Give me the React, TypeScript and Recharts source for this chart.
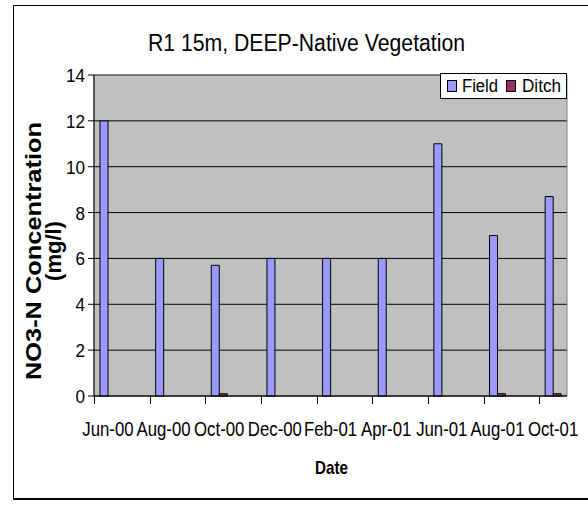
import { Bar, BarChart, CartesianGrid, ReferenceArea, XAxis, YAxis } from 'recharts'

// monthly slots on the date axis (Excel date axis, base unit = month)
const months = [
  'Jun-00', 'Jul-00', 'Aug-00', 'Sep-00', 'Oct-00', 'Nov-00', 'Dec-00', 'Jan-01', 'Feb-01',
  'Mar-01', 'Apr-01', 'May-01', 'Jun-01', 'Jul-01', 'Aug-01', 'Sep-01', 'Oct-01',
]
// null = no sample that month
const fieldValues = [12, null, 6, null, 5.7, null, 6, null, 6, null, 6, null, 11, null, 7, null, 8.7]
const ditchValues = [0, null, 0, null, 0.1, null, 0, null, 0, null, 0, null, 0, null, 0.1, null, 0.1]
const yTicks = [0, 2, 4, 6, 8, 10, 12, 14]

const FIELD = '#9999ff'
const DITCH = '#993366'
const FONT = '"Liberation Sans", Arial, sans-serif'

const W = 588
const H = 507
const PLOT_LEFT = 94
const PLOT_RIGHT = 567
const PLOT_TOP = 75
const PLOT_BOTTOM = 396
const BAND = (PLOT_RIGHT - PLOT_LEFT) / months.length

const data = months.map((month, i) => ({ month, field: fieldValues[i], ditch: ditchValues[i] }))

function MonthTick(props: any) {
  const { x, payload } = props
  if (payload.index % 2 !== 0) return null
  // tick mark sits on the left edge of the month slot, label in its middle
  const left = Math.round(x - BAND / 2) + 0.5
  return (
    <g>
      <line x1={left} y1={PLOT_BOTTOM} x2={left} y2={PLOT_BOTTOM + 8} stroke="#000" strokeWidth={1} />
      <text
        transform={`translate(${x},436) scale(0.84,1)`}
        textAnchor="middle"
        fontSize={20}
        fontFamily={FONT}
        fill="#000"
      >
        {payload.value}
      </text>
    </g>
  )
}

function ValueTick(props: any) {
  const { x, y, payload } = props
  return (
    <text
      transform={`translate(${x - 1},${y + 7}) scale(0.9,1)`}
      textAnchor="end"
      fontSize={19}
      fontFamily={FONT}
      fill="#000"
    >
      {payload.value}
    </text>
  )
}

export default function App() {
  return (
    <div style={{ position: 'absolute', left: 0, top: 0, width: W, height: H, background: '#fff' }}>
      <div
        style={{
          position: 'absolute',
          left: 13,
          top: 5,
          width: 575,
          height: 495,
          borderLeft: '1px solid #000',
          borderTop: '1px solid #000',
          borderBottom: '2px solid #000',
          boxSizing: 'border-box',
        }}
      />
      <div style={{ position: 'absolute', left: 0, top: 0 }}>
        <BarChart
          width={W}
          height={H}
          data={data}
          barGap={0}
          barSize={8}
          margin={{ left: PLOT_LEFT - 60, right: W - PLOT_RIGHT, top: PLOT_TOP, bottom: H - PLOT_BOTTOM - 30 }}
        >
          <CartesianGrid vertical={false} stroke="#000" fill="#c0c0c0" fillOpacity={1} />
          <ReferenceArea y1={0} y2={14} fill="none" stroke="#808080" ifOverflow="visible" />
          <XAxis
            dataKey="month"
            interval={0}
            height={30}
            axisLine={{ stroke: '#000' }}
            tickLine={false}
            tick={<MonthTick />}
          />
          <YAxis
            width={60}
            domain={[0, 14]}
            ticks={yTicks}
            interval={0}
            axisLine={{ stroke: '#000' }}
            tickLine={{ stroke: '#000' }}
            tickSize={6}
            tick={<ValueTick />}
          />
          <Bar dataKey="field" name="Field" fill={FIELD} stroke="#000" strokeWidth={1} isAnimationActive={false} />
          <Bar dataKey="ditch" name="Ditch" fill={DITCH} stroke="#000" strokeWidth={1} isAnimationActive={false} />
        </BarChart>
      </div>
      <svg
        width={W}
        height={H}
        style={{ position: 'absolute', left: 0, top: 0, pointerEvents: 'none' }}
        fontFamily={FONT}
      >
        <text x={148} y={51} fontSize={23} textLength={317} lengthAdjust="spacingAndGlyphs">
          R1 15m, DEEP-Native Vegetation
        </text>
        <g transform="translate(41,251) rotate(-90)">
          <text x={0} y={0} textAnchor="middle" fontSize={22} fontWeight="bold" textLength={258} lengthAdjust="spacingAndGlyphs">
            NO3-N Concentration
          </text>
          <text x={0} y={20} textAnchor="middle" fontSize={22} fontWeight="bold">
            (mg/l)
          </text>
        </g>
        <text x={315} y={474} fontSize={19} fontWeight="bold" textLength={33} lengthAdjust="spacingAndGlyphs">
          Date
        </text>
        <rect x={440.5} y={73.5} width={126} height={25} fill="#fff" stroke="#000" />
        <rect x={447.5} y={80.5} width={9} height={11} fill={FIELD} stroke="#000" />
        <text x={462} y={92} fontSize={18} textLength={36} lengthAdjust="spacingAndGlyphs">
          Field
        </text>
        <rect x={506.5} y={80.5} width={9} height={11} fill={DITCH} stroke="#000" />
        <text x={522} y={92} fontSize={18} textLength={39} lengthAdjust="spacingAndGlyphs">
          Ditch
        </text>
      </svg>
    </div>
  )
}
